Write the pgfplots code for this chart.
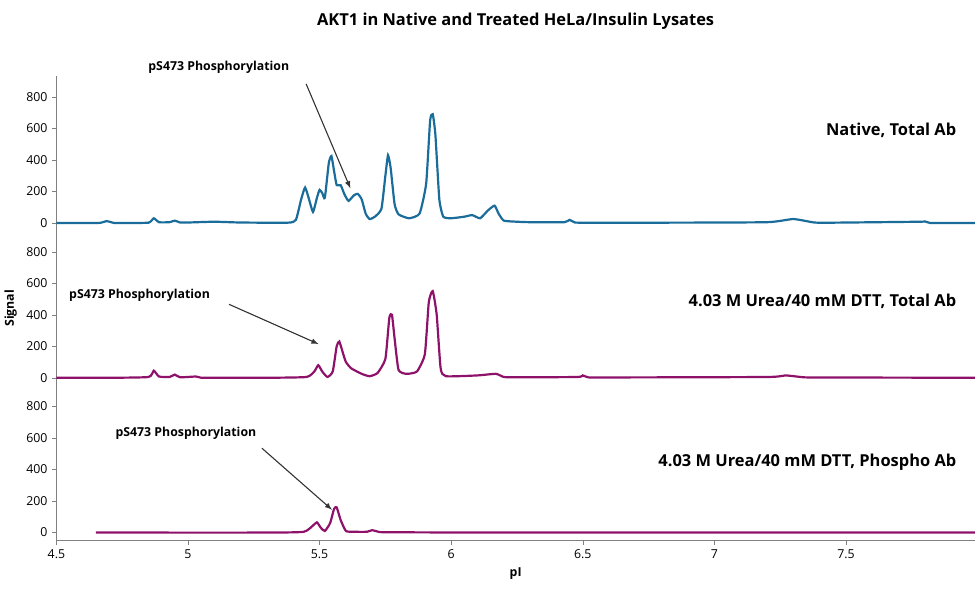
\documentclass[border=0pt]{standalone}
\usepackage{pgfplots}
\pgfplotsset{compat=1.18}
\usepackage{fontspec}
\setmainfont{Open Sans}
\definecolor{cblue}{HTML}{1A6C9A}
\definecolor{cpurp}{HTML}{8E1269}
\pgfplotsset{
 panel/.style={scale only axis, width=670.5pt, height=113pt, xmin=4.5, xmax=7.99,
  ymin=-50, ymax=932, ytick={0,200,400,600,800}, axis y line*=left,
  /pgf/number format/assume math mode=true, tick label style={font=\small},
  clip=false, tick align=outside, major tick length=3pt, axis line style={gray},
  ytick style={gray}, xtick style={gray}},
}
\tikzset{
 lab/.style={font=\bfseries\large, anchor=east},
 ann/.style={font=\small\bfseries},
 tr/.style={line width=1.6pt, smooth, tension=0.3},
}
\begin{document}
\begin{tikzpicture}
\begin{axis}[panel, name=top, axis x line=none]
\addplot[cblue, tr] coordinates {(4.5,0)(4.66,0)(4.69,12)(4.72,0)(4.75,0)(4.85,2)(4.87,30)(4.89,5)(4.93,5)(4.95,15)(4.97,3)(5.0,3)(5.1,8)(5.2,3)(5.38,2)(5.41,20)(5.43,150)(5.445,225)(5.46,150)(5.475,70)(5.49,160)(5.50,210)(5.51,190)(5.52,160)(5.535,380)(5.545,425)(5.555,330)(5.565,240)(5.58,240)(5.595,180)(5.61,140)(5.63,175)(5.645,185)(5.66,150)(5.675,60)(5.69,25)(5.71,40)(5.735,90)(5.75,300)(5.76,430)(5.77,350)(5.785,120)(5.80,55)(5.84,30)(5.88,60)(5.905,250)(5.92,650)(5.93,690)(5.94,560)(5.955,150)(5.97,40)(6.0,30)(6.05,40)(6.08,50)(6.11,30)(6.14,80)(6.165,110)(6.18,60)(6.2,15)(6.25,8)(6.3,5)(6.43,5)(6.45,20)(6.47,3)(6.52,2)(6.8,2)(7.2,5)(7.3,25)(7.38,3)(7.45,2)(7.78,8)(7.8,10)(7.82,0)(7.87,0)(7.99,0)};
\node[ann] at (axis cs:5.117,989) {pS473 Phosphorylation};
\draw[-latex, thick, black!80] (axis cs:5.449,882) -- (axis cs:5.617,220);
\node[lab] at (axis cs:7.9375,586) {Native, Total Ab};
\end{axis}
\begin{axis}[panel, name=mid, at={(top.south west)}, anchor=north west, axis x line=none,
  ylabel={\bfseries Signal}, ylabel style={font=\small}]
\addplot[cpurp, tr] coordinates {(4.5,0)(4.7,0)(4.85,5)(4.87,45)(4.89,8)(4.93,5)(4.95,20)(4.97,3)(5.03,8)(5.05,0)(5.1,0)(5.3,0)(5.45,5)(5.48,40)(5.495,80)(5.51,40)(5.53,5)(5.55,40)(5.565,200)(5.575,230)(5.59,150)(5.60,100)(5.62,60)(5.66,25)(5.69,10)(5.72,30)(5.75,120)(5.765,380)(5.775,400)(5.785,250)(5.80,50)(5.83,25)(5.87,40)(5.90,150)(5.915,480)(5.93,550)(5.945,400)(5.96,60)(5.98,10)(6.1,15)(6.17,25)(6.2,5)(6.25,3)(6.48,5)(6.5,15)(6.52,3)(6.57,2)(7.2,5)(7.27,15)(7.34,3)(7.4,2)(7.99,0)};
\node[ann] at (axis cs:4.816,523) {pS473 Phosphorylation};
\draw[-latex, thick, black!80] (axis cs:5.156,466) -- (axis cs:5.496,214);
\node[lab] at (axis cs:7.9375,485) {4.03 M Urea/40 mM DTT, Total Ab};
\end{axis}
\begin{axis}[panel, name=bot, at={(mid.south west)}, anchor=north west, axis x line*=bottom,
  xtick={4.5,5,5.5,6,6.5,7,7.5}, xticklabels={4.5,5,5.5,6,6.5,7,7.5},
  xlabel={\bfseries pI}, xlabel style={font=\small}]
\addplot[cpurp, tr] coordinates {(4.65,0)(5.3,0)(5.44,5)(5.475,45)(5.49,65)(5.505,30)(5.52,10)(5.54,60)(5.555,150)(5.565,160)(5.58,80)(5.60,10)(5.63,5)(5.68,5)(5.70,15)(5.73,3)(5.78,2)(6.2,0)(7.99,0)};
\node[ann] at (axis cs:4.992,630) {pS473 Phosphorylation};
\draw[-latex, thick, black!80] (axis cs:5.281,535) -- (axis cs:5.547,145);
\node[lab] at (axis cs:7.9375,447) {4.03 M Urea/40 mM DTT, Phospho Ab};
\end{axis}
\node[font=\bfseries\large] (T) at ([yshift=40pt]top.north) {AKT1 in Native and Treated HeLa/Insulin Lysates};
\path ([yshift=6pt]T.north) -- ([yshift=-40pt]bot.south);
\end{tikzpicture}
\end{document}
